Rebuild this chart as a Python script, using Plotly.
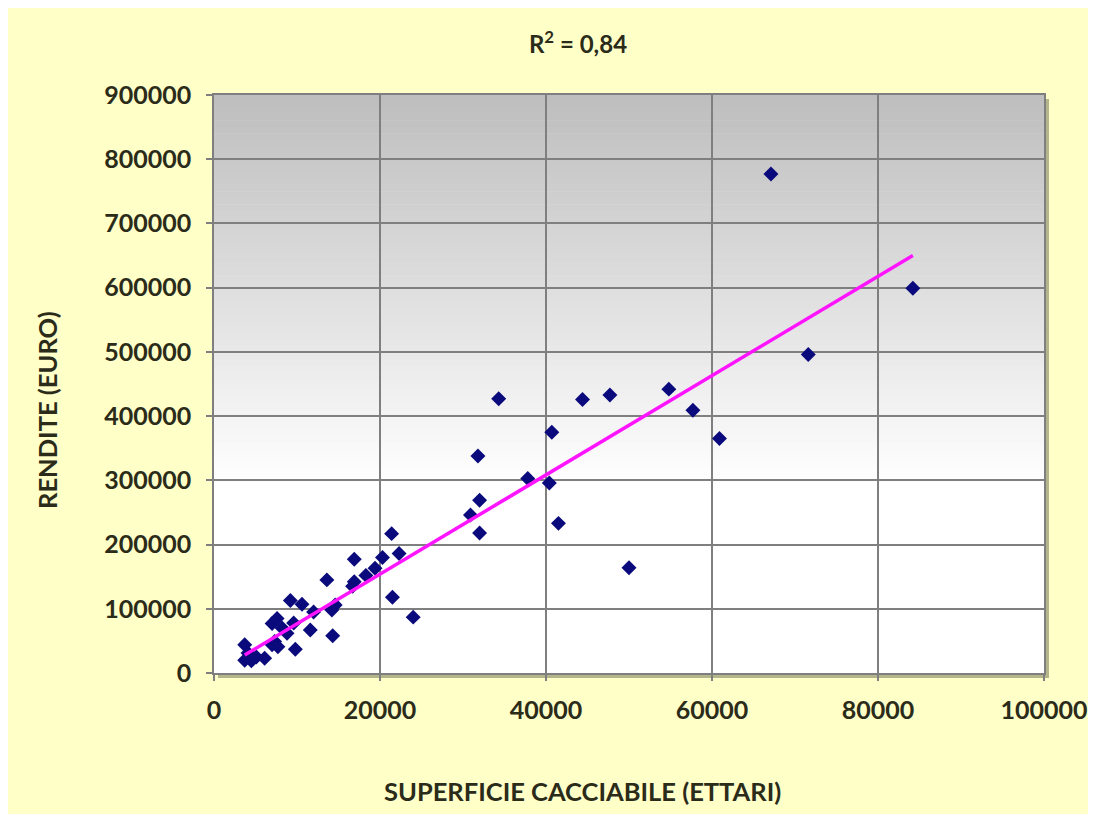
import plotly.graph_objects as go

# superficie cacciabile (ettari) / rendite (euro)
superficie = [3700, 4100, 3700, 4500, 5100, 6100, 7000, 7300, 7700, 9800,
              7000, 7600, 8200, 8800, 9600, 9200, 10600, 12000, 11600, 14200,
              14600, 14300, 13600, 16700, 16900, 16900, 18300, 19400, 20300, 21400,
              22300, 21500, 24000,
              30900, 32000, 32000, 31800, 34300, 37800, 40400, 40700, 41500, 44400,
              47700, 50000, 54800, 57700, 60900, 67100, 71600, 84200]
rendite = [44000, 31000, 20000, 19000, 25000, 23000, 44000, 49000, 41000, 37000,
           77000, 85000, 70000, 62000, 78000, 113000, 107000, 95000, 67000, 98000,
           106000, 58000, 145000, 135000, 142000, 177000, 152000, 163000, 180000, 217000,
           186000, 118000, 87000,
           246000, 269000, 218000, 338000, 427000, 303000, 296000, 375000, 233000, 426000,
           433000, 164000, 442000, 409000, 365000, 777000, 496000, 599000]

# linear trendline end points
trend_x = [3700, 84200]
trend_y = [28000, 650000]

FONT = "Lato"
TXT = "#2b2b1a"

fig = go.Figure()
fig.add_trace(go.Scatter(x=superficie, y=rendite, mode="markers",
                         marker=dict(symbol="diamond", size=11.5, color="#0a0a7c"),
                         showlegend=False))
fig.add_trace(go.Scatter(x=trend_x, y=trend_y, mode="lines",
                         line=dict(color="#ff14ff", width=3.5), showlegend=False))

# page has an 8px body margin; figure coords = page coords - 8
OFF = 8
L, R, T, B = 214 - OFF, 1096 - (1044 - OFF), 95 - OFF, 814 - (673 - OFF)
W, H = 830, 578
def px(x):  # page x -> paper
    return (x - 214) / W
def py(y):  # page y -> paper
    return (673 - y) / H

shapes = [
    # plot-area shadow
    dict(type="rect", xref="paper", yref="paper", x0=px(218), x1=px(1049),
         y0=py(678), y1=py(99), fillcolor="rgba(120,120,90,0.55)", line_width=0, layer="below"),
    dict(type="rect", xref="paper", yref="paper", x0=0, x1=1, y0=0, y1=1,
         fillcolor="white", line_width=0, layer="below"),
]
# grey-to-white gradient in the plot area
n = 60
top, stop = 1.0, 0.33
for i in range(n):
    y1 = top - (top - stop) * i / n
    y0 = top - (top - stop) * (i + 1) / n
    c = int(190 + (255 - 190) * (i + 0.5) / n)
    shapes.append(dict(type="rect", xref="paper", yref="paper", x0=0, x1=1, y0=y0, y1=y1 + 0.001,
                       fillcolor=f"rgb({c},{c},{c})", line_width=0, layer="below"))

axis_common = dict(showgrid=True, gridcolor="#7f7f7f", gridwidth=1.5,
                   showline=True, linecolor="#7f7f7f", linewidth=1.5, mirror=True,
                   ticks="outside", ticklen=6, tickcolor="#7f7f7f", tickwidth=1.5,
                   zeroline=False,
                   tickfont=dict(family=FONT, size=25, color=TXT, weight="bold"))

fig.update_layout(
    width=1096, height=814,
    margin=dict(l=L, r=R, t=T, b=B),
    paper_bgcolor="#ffffc8", plot_bgcolor="white",
    shapes=shapes,
    xaxis=dict(range=[0, 100000], dtick=20000, tickformat="d", ticklabelstandoff=8, **axis_common),
    yaxis=dict(range=[0, 900000], dtick=100000, tickformat="d", ticklabelstandoff=10, **axis_common),
    title=dict(text="R<sup>2</sup> = 0,84", xref="container", yref="container",
               x=(578 - OFF) / 1096, y=1 - (45 - OFF) / 814, xanchor="center", yanchor="middle",
               font=dict(family=FONT, size=24, color=TXT, weight="bold")),
    annotations=[
        dict(text="SUPERFICIE CACCIABILE (ETTARI)", xref="paper", yref="paper",
             x=px(582), y=py(791), showarrow=False, xanchor="center", yanchor="middle",
             font=dict(family=FONT, size=25.5, color=TXT, weight="bold")),
        dict(text="RENDITE (EURO)", xref="paper", yref="paper", textangle=-90,
             x=px(47), y=py(410), showarrow=False, xanchor="center", yanchor="middle",
             font=dict(family=FONT, size=25.5, color=TXT, weight="bold")),
    ],
)

fig.write_html("out.html")
